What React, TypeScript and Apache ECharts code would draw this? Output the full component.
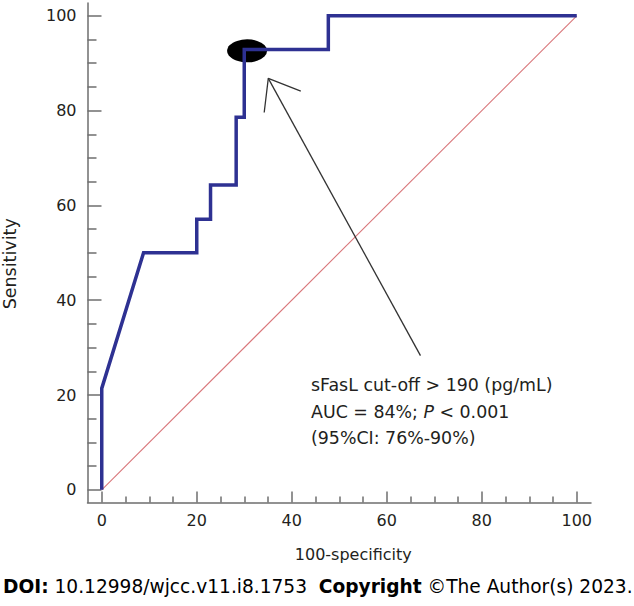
import React, { useEffect, useRef } from "react";
import * as echarts from "echarts";

// ROC curve (100 - specificity, sensitivity)
const fpr = [0, 0, 8.8, 20, 20, 22.9, 22.9, 28.3, 28.3, 30, 30, 47.7, 47.7, 100];
const tpr = [0, 21.4, 50, 50, 57.1, 57.1, 64.3, 64.3, 78.6, 78.6, 92.9, 92.9, 100, 100];
// reference diagonal
const diagX = [0, 100];
const diagY = [0, 100];
// optimal cut-off marker
const cutoffPoint = [30.6, 92.6];
// annotation arrow (shaft and head)
const arrowShaft = [[67.1, 28.3], [35.06, 86.8]];
const arrowHead = [[41.9, 84.1], [35.06, 86.8], [34.2, 79.6]];

const majorTicks = [0, 20, 40, 60, 80, 100];
const minorTicks = [5, 10, 15, 25, 30, 35, 45, 50, 55, 65, 70, 75, 85, 90, 95];

const annotationLines = [
  "sFasL cut-off > 190 (pg/mL)",
  "AUC = 84%; {i|P} < 0.001",
  "(95%CI: 76%-90%)",
];

const FONT = "DejaVu Sans";
const AXIS_COLOR = "#6e6e6e";
const TEXT_COLOR = "#231f20";

export default function App() {
  const ref = useRef<HTMLDivElement>(null);
  useEffect(() => {
    if (!ref.current) return;
    const chart = echarts.init(ref.current, undefined, { renderer: "svg" });
    const xMin = -3, xMax = 103, yMin = -2.7, yMax = 102.7;
    const baseX = (extra: any) => ({
      type: "value",
      min: xMin,
      max: xMax,
      position: "bottom",
      splitLine: { show: false },
      axisLine: { onZero: false, show: true, lineStyle: { color: AXIS_COLOR, width: 1.5 } },
      ...extra,
    });
    const baseY = (extra: any) => ({
      type: "value",
      min: yMin,
      max: yMax,
      position: "left",
      splitLine: { show: false },
      axisLine: { onZero: false, show: true, lineStyle: { color: AXIS_COLOR, width: 1.5 } },
      ...extra,
    });
    chart.setOption({
      animation: false,
      grid: { left: 87.5, top: 3, width: 503.5, height: 499.6, containLabel: false, outerBoundsMode: "none" },
      xAxis: [
        baseX({
          name: "100-specificity",
          nameLocation: "middle",
          nameGap: 44,
          nameTextStyle: { fontFamily: FONT, fontSize: 16, color: TEXT_COLOR, padding: [0, 0, 0, 28] },
          axisTick: { show: true, inside: true, length: 11, customValues: majorTicks, lineStyle: { color: AXIS_COLOR, width: 1.5 } },
          axisLabel: { show: true, customValues: majorTicks, margin: 10, fontFamily: FONT, fontSize: 16, color: TEXT_COLOR },
        }),
        baseX({
          axisLine: { onZero: false, show: false },
          axisTick: { show: true, inside: true, length: 6, customValues: minorTicks, lineStyle: { color: AXIS_COLOR, width: 1.5 } },
          axisLabel: { show: false },
        }),
      ],
      yAxis: [
        baseY({
          name: "Sensitivity",
          nameLocation: "middle",
          nameGap: 69,
          nameTextStyle: { fontFamily: FONT, fontSize: 17.5, color: TEXT_COLOR, padding: [0, 22, 0, 0] },
          axisTick: { show: true, inside: true, length: 14, customValues: majorTicks, lineStyle: { color: AXIS_COLOR, width: 1.5 } },
          axisLabel: { show: true, customValues: majorTicks, margin: 11, fontFamily: FONT, fontSize: 16, color: TEXT_COLOR },
        }),
        baseY({
          axisLine: { onZero: false, show: false },
          axisTick: { show: true, inside: true, length: 9, customValues: minorTicks, lineStyle: { color: AXIS_COLOR, width: 1.5 } },
          axisLabel: { show: false },
        }),
      ],
      series: [
        {
          type: "line",
          data: diagX.map((x, i) => [x, diagY[i]]),
          showSymbol: false,
          symbol: "none",
          lineStyle: { color: "#d9777b", width: 1.1 },
          z: 1,
        },
        {
          type: "scatter",
          data: [cutoffPoint],
          symbol: "circle",
          symbolSize: [40, 23],
          itemStyle: { color: "#000", opacity: 1 },
          z: 2,
        },
        {
          type: "line",
          data: fpr.map((x, i) => [x, tpr[i]]),
          showSymbol: false,
          symbol: "none",
          lineStyle: { color: "#2e3192", width: 3.5, join: "miter" },
          z: 3,
        },
        {
          type: "line",
          data: arrowShaft,
          showSymbol: false,
          symbol: "none",
          lineStyle: { color: "#333", width: 1.3 },
          z: 4,
        },
        {
          type: "line",
          data: arrowHead,
          showSymbol: false,
          symbol: "none",
          lineStyle: { color: "#333", width: 1.3 },
          z: 4,
        },
      ],
      graphic: [
        {
          type: "text",
          left: 311,
          top: 372,
          style: {
            text: annotationLines.join("\n"),
            fontFamily: FONT,
            fontSize: 17.4,
            lineHeight: 26.5,
            fill: TEXT_COLOR,
            rich: {
              i: { fontStyle: "italic", fontFamily: FONT, fontSize: 17.4, fill: TEXT_COLOR },
            },
          },
        },
        {
          type: "text",
          left: 3,
          top: 577,
          style: {
            text: "{b|DOI:} 10.12998/wjcc.v11.i8.1753  {b|Copyright} ©The Author(s) 2023.",
            fontFamily: FONT,
            fontSize: 18.6,
            fill: "#000",
            rich: {
              b: { fontWeight: "bold", fontFamily: FONT, fontSize: 18.6, fill: "#000" },
            },
          },
        },
      ],
    });
    return () => chart.dispose();
  }, []);
  return <div ref={ref} style={{ width: 634, height: 606, position: "absolute", left: 0, top: 0 }} />;
}
